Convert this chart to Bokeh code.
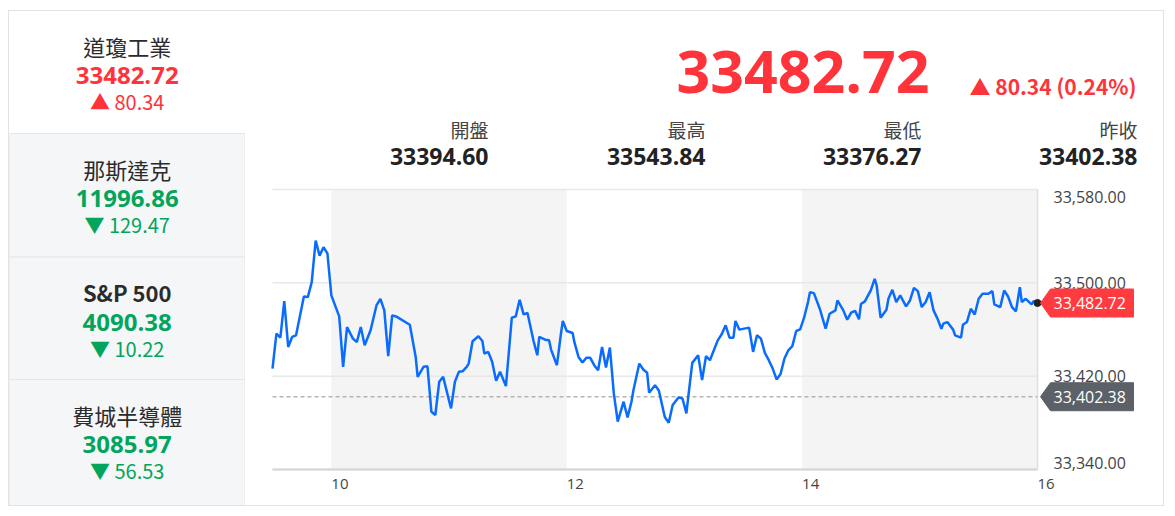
from bokeh.plotting import figure
from bokeh.models import Range1d
from bokeh.layouts import row, column
from bokeh.core.properties import value
from bokeh.embed import file_html
from bokeh.resources import INLINE

# ---------------- data ----------------
index_names = ["道瓊工業", "那斯達克", "S&P 500", "費城半導體"]
index_values = ["33482.72", "11996.86", "4090.38", "3085.97"]
index_changes = [80.34, -129.47, -10.22, -56.53]

last_price = 33482.72
price_change = 80.34
price_change_pct = 0.24
quote_labels = ["開盤", "最高", "最低", "昨收"]
quote_values = ["33394.60", "33543.84", "33376.27", "33402.38"]
prev_close = 33402.38

x_ticks = [10, 12, 14, 16]
y_ticks = [33340, 33420, 33500, 33580]
session_bands = [(10, 12), (14, 16)]
t_open, t_close = 9.5, 16.0

minutes_after_open = [0, 2, 4, 6, 8, 10, 12, 16, 18, 20, 22, 24, 26, 28, 30, 34, 36, 38, 41, 43,
                      45, 47, 50, 53, 55, 57, 59, 61, 63, 70, 73, 74, 77, 79, 81, 83, 85, 87, 91, 93,
                      95, 97, 99, 100, 102, 105, 107, 108, 110, 112, 114, 116, 119, 122, 124, 126, 128, 130, 133, 135,
                      136, 139, 141, 142, 145, 147, 148, 150, 153, 154, 156, 158, 160, 162, 164, 166, 168, 170, 172, 174,
                      176, 179, 181, 183, 184, 187, 189, 191, 192, 195, 197, 199, 200, 202, 204, 207, 209, 211, 212, 214,
                      217, 219, 221, 223, 225, 227, 229, 231, 233, 235, 236, 238, 243, 245, 247, 249, 251, 253, 255, 257,
                      259, 261, 263, 265, 267, 269, 271, 273, 274, 276, 279, 281, 282, 284, 287, 288, 291, 293, 295, 297,
                      299, 300, 302, 305, 307, 308, 310, 313, 314, 316, 318, 320, 323, 325, 327, 329, 331, 333, 335, 337,
                      339, 341, 342, 344, 347, 348, 351, 352, 354, 356, 358, 360, 362, 365, 367, 368, 371, 373, 375, 377,
                      379, 381, 382, 384, 387, 388, 390]
prices = [33426.5, 33456.4, 33453.0, 33484.3, 33445.0, 33453.6, 33455.0, 33488.3, 33487.8, 33500.6,
          33536.2, 33523.3, 33530.5, 33525.3, 33489.2, 33471.2, 33428.0, 33462.1, 33452.2, 33449.3,
          33462.1, 33446.5, 33459.3, 33480.6, 33486.3, 33476.4, 33437.1, 33472.1, 33471.2, 33464.1,
          33436.5, 33419.4, 33428.0, 33428.5, 33389.5, 33386.7, 33415.2, 33419.4, 33392.4, 33415.2,
          33423.7, 33424.3, 33428.0, 33430.8, 33449.9, 33454.2, 33450.2, 33439.4, 33440.8, 33432.2,
          33416.0, 33423.7, 33411.5, 33470.1, 33471.2, 33485.5, 33473.0, 33474.1, 33450.7, 33437.9,
          33453.6, 33451.3, 33450.7, 33442.8, 33429.4, 33455.9, 33467.3, 33458.7, 33457.0, 33448.5,
          33436.5, 33431.7, 33435.7, 33435.7, 33429.4, 33425.1, 33445.1, 33427.4, 33444.5, 33405.2,
          33381.0, 33398.1, 33384.7, 33398.1, 33408.0, 33430.8, 33425.7, 33422.9, 33405.8, 33412.3,
          33407.5, 33392.4, 33385.0, 33380.1, 33395.2, 33401.8, 33400.9, 33388.1, 33402.9, 33431.4,
          33437.9, 33416.6, 33437.1, 33433.7, 33442.2, 33450.7, 33455.9, 33463.6, 33453.0, 33453.0,
          33467.3, 33459.9, 33461.6, 33440.8, 33455.0, 33452.2, 33440.0, 33433.7, 33426.5, 33417.2,
          33421.8, 33435.1, 33442.2, 33445.7, 33458.7, 33460.1, 33470.1, 33483.5, 33492.0, 33491.2,
          33477.8, 33466.4, 33460.7, 33473.5, 33476.4, 33484.9, 33476.4, 33468.4, 33474.5, 33476.0,
          33468.8, 33481.8, 33484.1, 33493.5, 33503.4, 33497.7, 33470.1, 33476.9, 33486.3, 33494.0,
          33483.5, 33489.2, 33479.8, 33484.9, 33495.7, 33492.9, 33479.2, 33483.5, 33492.0, 33476.4,
          33469.3, 33460.7, 33465.0, 33466.4, 33459.9, 33455.0, 33453.0, 33464.1, 33466.4, 33477.8,
          33472.9, 33486.3, 33490.6, 33490.6, 33492.9, 33481.5, 33479.2, 33493.5, 33488.3, 33479.2,
          33475.5, 33496.3, 33483.5, 33486.3, 33481.5, 33484.3, 33482.72]

hours = [t_open + m / 60 for m in minutes_after_open]

# ---------------- styles ----------------
RED = "#ff333a"
GREEN = "#02a55b"
BLUE = "#0a6cff"
CJK = "Noto Sans CJK TC"
LAT = "Open Sans"


def blank(w, h, xr, yr):
    f = figure(width=w, height=h, x_range=xr, y_range=yr, x_axis_type=None, y_axis_type=None,
               output_backend="svg", toolbar_location=None, min_border=0, outline_line_color=None)
    f.grid.visible = False
    return f


# ---------------- left panel ----------------
LW, LH = 236, 494
left = blank(LW, LH, Range1d(0, LW), Range1d(LH, 0))
panel_tops = [-1, 122, 245.5, 368]
panel_bottoms = [122, 245.5, 368, 495]
left.quad(left=0, right=235.5, top=panel_tops[1:], bottom=panel_bottoms[1:],
          fill_color="#f5f6f8", line_color="#e4e6ea", line_width=1)
cx = [117.7] * 4
title_y = [t + 35 for t in panel_tops]
value_y = [t + 65 for t in panel_tops]
change_y = [t + 91 for t in panel_tops]
colors = [RED if c > 0 else GREEN for c in index_changes]
title_styles = ["bold" if n.isascii() else "normal" for n in index_names]
left.text(x=cx, y=title_y, text=index_names, text_align="center", text_baseline="middle",
          text_font=value(CJK), text_font_size="22px", text_color="#2b2b2b",
          text_font_style=title_styles)
left.text(x=cx, y=value_y, text=index_values, text_align="center", text_baseline="middle",
          text_font=value(LAT), text_font_size="24px", text_font_style="bold", text_color=colors)
change_txt = [("▲ " if c > 0 else "▼ ") + f"{abs(c):.2f}" for c in index_changes]
left.text(x=cx, y=change_y, text=change_txt, text_align="center", text_baseline="middle",
          text_font=value(CJK), text_font_size="20px", text_color=colors)

# ---------------- header ----------------
HW, HH = 918, 166
head = blank(HW, HH, Range1d(0, HW), Range1d(HH, 0))
head.text(x=[684], y=[60], text=[f"{last_price:.2f}"], text_align="right", text_baseline="middle",
          text_font=value(LAT), text_font_size="59px", text_font_style="bold", text_color=RED)
head.text(x=[891], y=[74], text=[f"▲ {price_change:.2f} ({price_change_pct:.2f}%)"],
          text_align="right", text_baseline="middle",
          text_font=value(CJK), text_font_size="21px", text_font_style="bold", text_color=RED)
qx = [243, 460, 676, 892]
head.text(x=qx, y=[118] * 4, text=quote_labels, text_align="right", text_baseline="middle",
          text_font=value(CJK), text_font_size="19px", text_color="#444444")
head.text(x=qx, y=[145] * 4, text=quote_values, text_align="right", text_baseline="middle",
          text_font=value(LAT), text_font_size="23px", text_font_style="bold", text_color="#222222")

# ---------------- chart ----------------
CW, CH = 918, 328
PL, PT, PW, PH = 27, 12, 765, 280          # plot area inside the chart canvas (px)
v0, v1 = y_ticks[0], y_ticks[-1]
KX = (t_close - t_open) / PW
KY = (v1 - v0) / PH
chart = blank(CW, CH,
              Range1d(t_open - PL * KX, t_close + (CW - PL - PW) * KX),
              Range1d(v0 - (CH - PT - PH) * KY, v1 + PT * KY))

chart.quad(left=[a for a, b in session_bands], right=[b for a, b in session_bands],
           bottom=v0, top=v1, fill_color="#f4f4f4", line_color=None)
chart.segment(x0=t_open, y0=y_ticks, x1=t_close, y1=y_ticks, line_color="#e8e8e8", line_width=1.5)
chart.segment(x0=[t_open], y0=[v0], x1=[t_close], y1=[v0], line_color="#d4d4d4", line_width=2)
chart.segment(x0=[t_close], y0=[v0], x1=[t_close], y1=[v1], line_color="#e0e0e0", line_width=1.5)
chart.segment(x0=[t_open], y0=[prev_close], x1=[t_close], y1=[prev_close],
              line_color="#b4b4b4", line_dash="4 3", line_width=1.5)
chart.line(hours, prices, line_color=BLUE, line_width=2.5)
chart.scatter(x=[hours[-1]], y=[prices[-1]], size=7, color="#222222")

# axis tick labels
chart.text(x=t_close, y=y_ticks, x_offset=16, y_offset=[-7, 0, 0, 7],
           text=[f"{v:,.2f}" for v in y_ticks], text_align="left", text_baseline="middle",
           text_font=value(LAT), text_font_size="16px", text_color="#444444")
chart.text(x=x_ticks, y=v0, y_offset=14, text=[str(t) for t in x_ticks],
           text_align="left", text_baseline="middle",
           text_font=value(LAT), text_font_size="15px", text_color="#444444")

# price tags
tag_prices = [prev_close, prices[-1]]
tag_colors = ["#5b6167", "#ff3b40"]
TAG_DX = [3, 13, 96, 96, 13]
TAG_DY = [0, 14, 14, -14, -14]
chart.patches(xs=[[t_close + d * KX for d in TAG_DX] for _ in tag_prices],
              ys=[[p + d * KY for d in TAG_DY] for p in tag_prices],
              fill_color=tag_colors, line_color=tag_colors)
chart.text(x=t_close, y=tag_prices, x_offset=16, text=[f"{p:,.2f}" for p in tag_prices],
           text_align="left", text_baseline="middle",
           text_font=value(LAT), text_font_size="16px", text_color="white")

layout = row(left, column(head, chart),
             styles={"border": "1px solid #e2e2e2", "margin-top": "10px", "margin-left": "8px"})

open("out.html", "w").write(file_html(layout, INLINE))
